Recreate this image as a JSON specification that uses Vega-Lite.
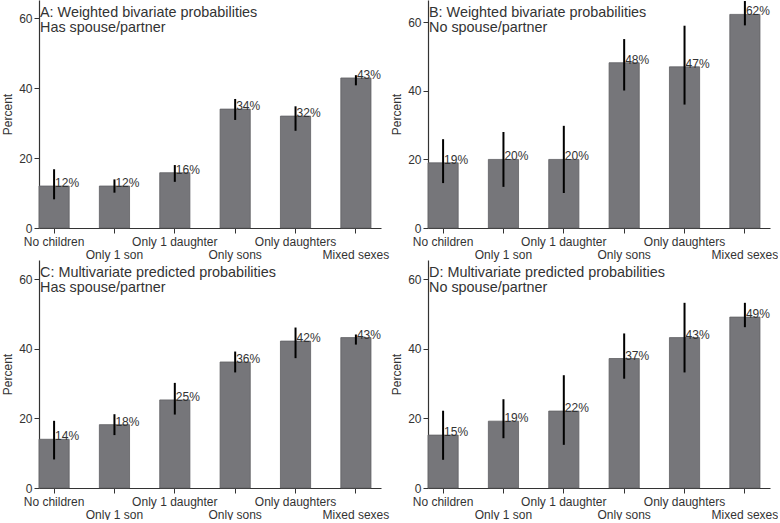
{
  "$schema": "https://vega.github.io/schema/vega-lite/v6.json",
  "padding": {"left": 1, "top": 0, "right": 0, "bottom": 0},
  "background": "white",
  "config": {
    "view": {"stroke": null},
    "font": "Liberation Sans",
    "axis": {"domainColor": "#333333", "tickColor": "#333333", "labelColor": "#333333", "titleColor": "#333333", "grid": false, "labelFont": "Liberation Sans", "titleFont": "Liberation Sans", "labelFontSize": 12, "titleFontSize": 12, "titleFontWeight": "normal", "tickSize": 5, "domainWidth": 1.2},
    "title": {"anchor": "start", "frame": "group", "font": "Liberation Sans", "fontSize": 14.4, "fontWeight": "normal", "color": "#333333", "offset": -35, "lineHeight": 14.5, "dx": 1}
  },
  "data": {"values": [
    {"panel": "A", "cat": "No children", "pct": 12, "lo": 8.2, "hi": 16.8, "label": "12%"},
    {"panel": "A", "cat": "Only 1 son", "pct": 12, "lo": 10.1, "hi": 13.9, "label": "12%"},
    {"panel": "A", "cat": "Only 1 daughter", "pct": 15.8, "lo": 13.2, "hi": 18, "label": "16%"},
    {"panel": "A", "cat": "Only sons", "pct": 34, "lo": 30.9, "hi": 36.9, "label": "34%"},
    {"panel": "A", "cat": "Only daughters", "pct": 32, "lo": 27.8, "hi": 34.8, "label": "32%"},
    {"panel": "A", "cat": "Mixed sexes", "pct": 42.9, "lo": 40.8, "hi": 43.7, "label": "43%"},
    {"panel": "B", "cat": "No children", "pct": 19, "lo": 13.1, "hi": 25.9, "label": "19%"},
    {"panel": "B", "cat": "Only 1 son", "pct": 20, "lo": 12, "hi": 28, "label": "20%"},
    {"panel": "B", "cat": "Only 1 daughter", "pct": 20, "lo": 10.2, "hi": 29.8, "label": "20%"},
    {"panel": "B", "cat": "Only sons", "pct": 48.2, "lo": 40.1, "hi": 55.1, "label": "48%"},
    {"panel": "B", "cat": "Only daughters", "pct": 47, "lo": 36, "hi": 59, "label": "47%"},
    {"panel": "B", "cat": "Mixed sexes", "pct": 62.3, "lo": 59.1, "hi": 66.2, "label": "62%"},
    {"panel": "C", "cat": "No children", "pct": 14, "lo": 8.2, "hi": 19.3, "label": "14%"},
    {"panel": "C", "cat": "Only 1 son", "pct": 18.2, "lo": 15.2, "hi": 21.2, "label": "18%"},
    {"panel": "C", "cat": "Only 1 daughter", "pct": 25.3, "lo": 21.1, "hi": 30.2, "label": "25%"},
    {"panel": "C", "cat": "Only sons", "pct": 36.2, "lo": 33.2, "hi": 39.2, "label": "36%"},
    {"panel": "C", "cat": "Only daughters", "pct": 42.2, "lo": 37.3, "hi": 46.1, "label": "42%"},
    {"panel": "C", "cat": "Mixed sexes", "pct": 43.2, "lo": 41.2, "hi": 44.1, "label": "43%"},
    {"panel": "D", "cat": "No children", "pct": 15.2, "lo": 8.1, "hi": 22.2, "label": "15%"},
    {"panel": "D", "cat": "Only 1 son", "pct": 19.2, "lo": 14.3, "hi": 25.5, "label": "19%"},
    {"panel": "D", "cat": "Only 1 daughter", "pct": 22.1, "lo": 12.4, "hi": 32.4, "label": "22%"},
    {"panel": "D", "cat": "Only sons", "pct": 37.2, "lo": 31.4, "hi": 44.4, "label": "37%"},
    {"panel": "D", "cat": "Only daughters", "pct": 43.2, "lo": 33.2, "hi": 53.2, "label": "43%"},
    {"panel": "D", "cat": "Mixed sexes", "pct": 49.1, "lo": 46.2, "hi": 53.2, "label": "49%"}
  ]},
  "columns": 2,
  "spacing": {"row": -1, "column": 1},
  "concat": [
    {
      "title": {"text": ["A: Weighted bivariate probabilities", "Has spouse/partner"]},
      "width": 342, "height": 228,
      "transform": [{"filter": "datum.panel === 'A'"}],
      "encoding": {
        "x": {"field": "cat", "type": "nominal", "sort": ["No children", "Only 1 son", "Only 1 daughter", "Only sons", "Only daughters", "Mixed sexes"], "scale": {"paddingInner": 0.5, "paddingOuter": 0.083, "align": 0}, "axis": {"title": null, "labelAngle": 0, "labelPadding": 3, "labelLineHeight": 13, "labelOverlap": false, "labelBound": false, "labelExpr": "indexof(['Only 1 son','Only sons','Mixed sexes'], datum.value) >= 0 ? [' ', datum.value] : datum.value"}},
        "y": {"field": "pct", "type": "quantitative", "scale": {"domain": [0, 65.2], "nice": false}, "axis": {"values": [0, 20, 40, 60], "title": "Percent", "titlePadding": 4, "labelPadding": 2}}
      },
      "layer": [
        {"mark": {"type": "bar", "fill": "#76767a", "stroke": "#606063", "strokeWidth": 0.8}},
        {"mark": {"type": "rule", "strokeWidth": 2, "stroke": "black"}, "encoding": {"y": {"field": "lo", "type": "quantitative"}, "y2": {"field": "hi"}}},
        {"mark": {"type": "text", "align": "left", "baseline": "middle", "dx": 1, "dy": -3, "font": "Liberation Sans", "fontSize": 12, "fill": "#333333"}, "encoding": {"text": {"field": "label"}}}
      ]
    },
    {
      "title": {"text": ["B: Weighted bivariate probabilities", "No spouse/partner"]},
      "width": 342, "height": 228,
      "transform": [{"filter": "datum.panel === 'B'"}],
      "encoding": {
        "x": {"field": "cat", "type": "nominal", "sort": ["No children", "Only 1 son", "Only 1 daughter", "Only sons", "Only daughters", "Mixed sexes"], "scale": {"paddingInner": 0.5, "paddingOuter": 0.083, "align": 0}, "axis": {"title": null, "labelAngle": 0, "labelPadding": 3, "labelLineHeight": 13, "labelOverlap": false, "labelBound": false, "labelExpr": "indexof(['Only 1 son','Only sons','Mixed sexes'], datum.value) >= 0 ? [' ', datum.value] : datum.value"}},
        "y": {"field": "pct", "type": "quantitative", "scale": {"domain": [0, 66.5], "nice": false}, "axis": {"values": [0, 20, 40, 60], "title": "Percent", "titlePadding": 4, "labelPadding": 2}}
      },
      "layer": [
        {"mark": {"type": "bar", "fill": "#76767a", "stroke": "#606063", "strokeWidth": 0.8}},
        {"mark": {"type": "rule", "strokeWidth": 2, "stroke": "black"}, "encoding": {"y": {"field": "lo", "type": "quantitative"}, "y2": {"field": "hi"}}},
        {"mark": {"type": "text", "align": "left", "baseline": "middle", "dx": 1, "dy": -3, "font": "Liberation Sans", "fontSize": 12, "fill": "#333333"}, "encoding": {"text": {"field": "label"}}}
      ]
    },
    {
      "title": {"text": ["C: Multivariate predicted probabilities", "Has spouse/partner"]},
      "width": 342, "height": 228,
      "transform": [{"filter": "datum.panel === 'C'"}],
      "encoding": {
        "x": {"field": "cat", "type": "nominal", "sort": ["No children", "Only 1 son", "Only 1 daughter", "Only sons", "Only daughters", "Mixed sexes"], "scale": {"paddingInner": 0.5, "paddingOuter": 0.083, "align": 0}, "axis": {"title": null, "labelAngle": 0, "labelPadding": 3, "labelLineHeight": 13, "labelOverlap": false, "labelBound": false, "labelExpr": "indexof(['Only 1 son','Only sons','Mixed sexes'], datum.value) >= 0 ? [' ', datum.value] : datum.value"}},
        "y": {"field": "pct", "type": "quantitative", "scale": {"domain": [0, 65.5], "nice": false}, "axis": {"values": [0, 20, 40, 60], "title": "Percent", "titlePadding": 4, "labelPadding": 2}}
      },
      "layer": [
        {"mark": {"type": "bar", "fill": "#76767a", "stroke": "#606063", "strokeWidth": 0.8}},
        {"mark": {"type": "rule", "strokeWidth": 2, "stroke": "black"}, "encoding": {"y": {"field": "lo", "type": "quantitative"}, "y2": {"field": "hi"}}},
        {"mark": {"type": "text", "align": "left", "baseline": "middle", "dx": 1, "dy": -3, "font": "Liberation Sans", "fontSize": 12, "fill": "#333333"}, "encoding": {"text": {"field": "label"}}}
      ]
    },
    {
      "title": {"text": ["D: Multivariate predicted probabilities", "No spouse/partner"]},
      "width": 342, "height": 228,
      "transform": [{"filter": "datum.panel === 'D'"}],
      "encoding": {
        "x": {"field": "cat", "type": "nominal", "sort": ["No children", "Only 1 son", "Only 1 daughter", "Only sons", "Only daughters", "Mixed sexes"], "scale": {"paddingInner": 0.5, "paddingOuter": 0.083, "align": 0}, "axis": {"title": null, "labelAngle": 0, "labelPadding": 3, "labelLineHeight": 13, "labelOverlap": false, "labelBound": false, "labelExpr": "indexof(['Only 1 son','Only sons','Mixed sexes'], datum.value) >= 0 ? [' ', datum.value] : datum.value"}},
        "y": {"field": "pct", "type": "quantitative", "scale": {"domain": [0, 65.5], "nice": false}, "axis": {"values": [0, 20, 40, 60], "title": "Percent", "titlePadding": 4, "labelPadding": 2}}
      },
      "layer": [
        {"mark": {"type": "bar", "fill": "#76767a", "stroke": "#606063", "strokeWidth": 0.8}},
        {"mark": {"type": "rule", "strokeWidth": 2, "stroke": "black"}, "encoding": {"y": {"field": "lo", "type": "quantitative"}, "y2": {"field": "hi"}}},
        {"mark": {"type": "text", "align": "left", "baseline": "middle", "dx": 1, "dy": -3, "font": "Liberation Sans", "fontSize": 12, "fill": "#333333"}, "encoding": {"text": {"field": "label"}}}
      ]
    }
  ]
}
